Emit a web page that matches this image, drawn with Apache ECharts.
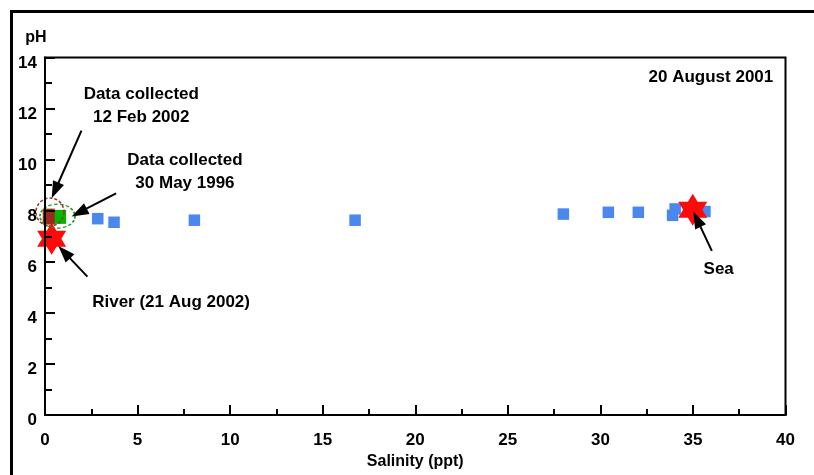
<!DOCTYPE html>
<html>
<head>
<meta charset="utf-8">
<script src="https://cdn.jsdelivr.net/npm/echarts@6/dist/echarts.min.js"></script>
<style>
  html, body { margin: 0; padding: 0; background: #fff; }
  #chart { width: 814px; height: 475px; }
</style>
</head>
<body>
<div id="chart"></div>
<script>
const FONT = '"Liberation Sans", Arial, sans-serif';

// Transect sampled on 20 August 2001 (salinity in ppt, pH)
const salinity2001 = [2.85, 3.73, 8.07, 16.75, 28.0, 30.43, 32.05, 33.9, 34.04, 35.65];
const ph2001       = [7.69, 7.55, 7.63, 7.63, 7.87, 7.94, 7.94, 7.82, 8.07, 7.97];

// End-members
const riverSalinity = [0.36];
const riverPh       = [6.9];
const seaSalinity   = [34.99];
const seaPh         = [8.04];

// Earlier freshwater samples
const feb2002Salinity = [0.2];
const feb2002Ph       = [7.77];
const may1996Salinity = [0.79];
const may1996Ph       = [7.76];

// Axis ticks
const xTickValues = [0, 5, 10, 15, 20, 25, 30, 35, 40];
const yTickValues = [0, 2, 4, 6, 8, 10, 12, 14];

// Callout rings around the earlier samples: [salinity, pH]
const feb2002Ring = [0.27, 7.95];
const may1996Ring = [0.675, 7.79];

// Annotation text, anchored at the text centre in data units
const noteTexts   = ['Data collected\n12 Feb 2002', 'Data collected\n30 May 1996', 'River (21 Aug 2002)', 'Sea', '20 August 2001'];
const noteAnchors = [[5.2, 12.12], [7.56, 9.53], [6.81, 4.43], [36.39, 5.69], [35.97, 13.23]];

// Arrows: [tailSalinity, tailPh] -> [tipSalinity, tipPh]
const arrowTails = [[1.97, 11.14], [3.84, 8.68], [2.29, 5.42], [36.02, 6.43]];
const arrowTips  = [[0.36, 8.49], [1.44, 7.78], [0.72, 6.62], [35.02, 7.97]];

const zip = (a, b) => a.map((v, i) => [v, b[i]]);

const STAR = 'path://M87,0 L116,50 L174,50 L145,100 L174,150 L116,150 L87,200 L58,150 L0,150 L29,100 L0,50 L58,50 Z';

const axisFont = { color: '#000', fontFamily: FONT, fontSize: 17, fontWeight: 'bold' };
const blackLine = { color: '#000', width: 2 };

const chart = echarts.init(document.getElementById('chart'), null, { renderer: 'canvas' });

chart.setOption({
  animation: false,
  backgroundColor: '#fff',
  grid: {
    left: 45, right: 28.5, top: 57.5, bottom: 55.5,
    show: true, borderColor: '#000', borderWidth: 2, backgroundColor: 'transparent'
  },
  xAxis: {
    type: 'value',
    min: xTickValues[0], max: xTickValues[xTickValues.length - 1],
    interval: xTickValues[1] - xTickValues[0],
    z: 10,
    axisLine: { onZero: false, lineStyle: blackLine },
    axisTick: { inside: true, length: 10, lineStyle: blackLine },
    minorTick: { show: true, splitNumber: 2, length: 6, lineStyle: blackLine },
    splitLine: { show: false },
    axisLabel: Object.assign({ margin: 17 }, axisFont),
    name: 'Salinity (ppt)',
    nameLocation: 'middle',
    nameGap: 38,
    nameTextStyle: Object.assign({}, axisFont, { fontSize: 16 })
  },
  yAxis: {
    type: 'value',
    min: yTickValues[0], max: yTickValues[yTickValues.length - 1],
    interval: yTickValues[1] - yTickValues[0],
    z: 10,
    axisLine: { onZero: false, lineStyle: blackLine },
    axisTick: { inside: true, length: 10, lineStyle: blackLine },
    minorTick: { show: true, splitNumber: 2, length: 7, lineStyle: blackLine },
    splitLine: { show: false },
    axisLabel: Object.assign({ margin: 8, verticalAlign: 'top', lineHeight: 11 }, axisFont),
    name: 'pH',
    nameLocation: 'end',
    nameGap: 12,
    nameTextStyle: Object.assign({ padding: [0, 18, 0, 0] }, axisFont, { fontSize: 16 })
  },
  series: [
    {
      name: '20 August 2001',
      type: 'scatter',
      z: 2,
      symbol: 'rect',
      symbolSize: 11.5,
      itemStyle: { color: '#4a88ee', opacity: 1 },
      data: zip(salinity2001, ph2001)
    },
    {
      name: '30 May 1996',
      type: 'scatter',
      z: 3,
      symbol: 'rect',
      symbolSize: [13, 14],
      itemStyle: { color: '#00b800', opacity: 1 },
      data: zip(may1996Salinity, may1996Ph)
    },
    {
      name: '12 Feb 2002',
      type: 'scatter',
      z: 4,
      symbol: 'rect',
      symbolSize: [12, 16],
      itemStyle: { color: '#9c2a1e', opacity: 1 },
      data: zip(feb2002Salinity, feb2002Ph)
    },
    {
      name: 'End-members',
      type: 'scatter',
      z: 5,
      symbol: STAR,
      symbolSize: [29, 32],
      itemStyle: { color: '#ff0a0a', opacity: 1 },
      data: zip(riverSalinity, riverPh).concat(zip(seaSalinity, seaPh))
    },
    {
      name: 'rings',
      type: 'scatter',
      z: 6,
      silent: true,
      symbol: 'circle',
      data: [
        { value: may1996Ring, symbolSize: [35, 24], itemStyle: { color: 'transparent', opacity: 1, borderColor: '#1a9a1a', borderWidth: 1.5, borderType: [3, 2] } },
        { value: feb2002Ring, symbolSize: [28, 28], itemStyle: { color: 'transparent', opacity: 1, borderColor: '#a0301f', borderWidth: 1.5, borderType: [3, 2] } }
      ]
    },
    {
      name: 'arrows',
      type: 'custom',
      z: 7,
      silent: true,
      data: arrowTails.map((t, i) => [t[0], t[1], arrowTips[i][0], arrowTips[i][1]]),
      renderItem: function (params, api) {
        const p0 = api.coord([api.value(0), api.value(1)]);
        const p1 = api.coord([api.value(2), api.value(3)]);
        const dx = p1[0] - p0[0], dy = p1[1] - p0[1];
        const len = Math.sqrt(dx * dx + dy * dy);
        const ux = dx / len, uy = dy / len;
        const headLen = 17, headHalf = 6;
        const bx = p1[0] - ux * headLen, by = p1[1] - uy * headLen;
        return {
          type: 'group',
          children: [
            { type: 'line', shape: { x1: p0[0], y1: p0[1], x2: bx + ux * 2, y2: by + uy * 2 }, style: { stroke: '#000', lineWidth: 2 } },
            { type: 'polygon', shape: { points: [[p1[0], p1[1]], [bx - uy * headHalf, by + ux * headHalf], [bx + uy * headHalf, by - ux * headHalf]] }, style: { fill: '#000' } }
          ]
        };
      }
    },
    {
      name: 'notes',
      type: 'scatter',
      z: 8,
      silent: true,
      symbolSize: 0,
      itemStyle: { color: 'transparent', opacity: 1 },
      label: {
        show: true,
        position: 'inside',
        color: '#000',
        fontFamily: FONT,
        fontSize: 17,
        fontWeight: 'bold',
        lineHeight: 23,
        align: 'center',
        verticalAlign: 'middle',
        formatter: p => noteTexts[p.dataIndex]
      },
      data: noteAnchors
    }
  ],
  graphic: [
    {
      type: 'polyline',
      silent: true,
      shape: { points: [[11.5, 475], [11.5, 11.5], [814, 11.5]] },
      style: { stroke: '#000', lineWidth: 3, fill: null }
    }
  ]
});
</script>
</body>
</html>
